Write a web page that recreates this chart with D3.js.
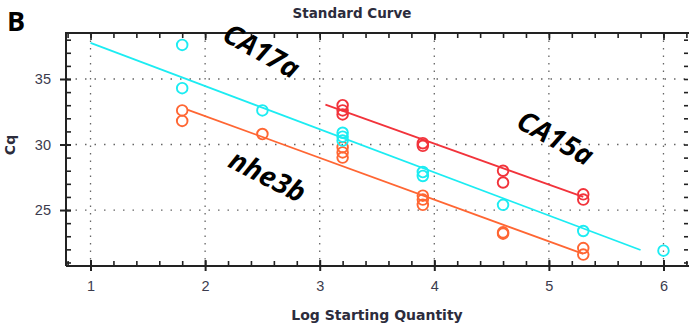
<!DOCTYPE html>
<html>
<head>
<meta charset="utf-8">
<script src="https://cdn.jsdelivr.net/npm/d3@7"></script>
<style>
  body { margin: 0; background: #fff; }
  svg { display: block; font-family: "DejaVu Sans", sans-serif; }
</style>
</head>
<body>
<div id="chart"></div>
<script>
// Chart values
var xTicks = [1, 2, 3, 4, 5, 6];
var yTicks = [25, 30, 35];

var ca17aX = [1.8, 1.8, 2.5, 3.2, 3.2, 3.2, 3.9, 3.9, 4.6, 5.3, 6.0];
var ca17aY = [37.6, 34.3, 32.6, 30.9, 30.6, 30.3, 27.9, 27.6, 25.4, 23.4, 21.9];
var ca17aLineX = [1.0, 5.8];
var ca17aLineY = [37.75, 21.95];

var ca15aX = [3.2, 3.2, 3.2, 3.9, 3.9, 4.6, 4.6, 5.3, 5.3];
var ca15aY = [33.0, 32.6, 32.3, 30.1, 29.9, 28.0, 27.1, 26.2, 25.8];
var ca15aLineX = [3.05, 5.3];
var ca15aLineY = [33.05, 26.0];

var nhe3bX = [1.8, 1.8, 2.5, 3.2, 3.2, 3.2, 3.9, 3.9, 3.9, 4.6, 4.6, 5.3, 5.3];
var nhe3bY = [32.6, 31.8, 30.8, 29.8, 29.4, 29.0, 26.1, 25.8, 25.4, 23.3, 23.2, 22.1, 21.6];
var nhe3bLineX = [1.85, 5.3];
var nhe3bLineY = [32.65, 21.65];

var seriesNames = ["nhe3b", "CA17a", "CA15a"];
var seriesColors = ["#ff6633", "#1cecf2", "#f2333b"];

// SVG area
var svgWidth = 689;
var svgHeight = 329;
var margin = { top: 33, right: 1, bottom: 63, left: 66 };
var chartWidth = svgWidth - margin.left - margin.right;
var chartHeight = svgHeight - margin.top - margin.bottom;

var svg = d3.select("#chart")
  .append("svg")
  .attr("width", svgWidth)
  .attr("height", svgHeight);

var chartGroup = svg.append("g")
  .attr("transform", `translate(${margin.left}, ${margin.top})`);

var xScale = d3.scaleLinear()
  .domain([0.786, 6.214])
  .range([0, chartWidth]);

var yScale = d3.scaleLinear()
  .domain([20.73, 38.51])
  .range([chartHeight, 0]);

// Dotted grid
chartGroup.selectAll(".vgrid")
  .data(xTicks)
  .enter()
  .append("line")
  .attr("x1", d => xScale(d))
  .attr("x2", d => xScale(d))
  .attr("y1", 0)
  .attr("y2", chartHeight)
  .attr("stroke", "#666")
  .attr("stroke-width", 1.3)
  .attr("stroke-dasharray", "1.5,6");

chartGroup.selectAll(".hgrid")
  .data(yTicks)
  .enter()
  .append("line")
  .attr("x1", 0)
  .attr("x2", chartWidth)
  .attr("y1", d => yScale(d))
  .attr("y2", d => yScale(d))
  .attr("stroke", "#666")
  .attr("stroke-width", 1.3)
  .attr("stroke-dasharray", "1.5,8");

// Axes with ticks crossing the frame
var xMinor = d3.range(0.8, 6.21, 0.2);
var yMinor = d3.range(21, 38.5, 1);

function drawAxis(axis, cls, transform) {
  chartGroup.append("g")
    .attr("class", cls)
    .attr("transform", transform)
    .call(axis);
}

drawAxis(d3.axisBottom(xScale).tickValues(xMinor).tickSize(-5).tickFormat(""), "x-minor", `translate(0, ${chartHeight})`);
drawAxis(d3.axisBottom(xScale).tickValues(xTicks).tickSize(5).tickPadding(10).tickFormat(d3.format("d")), "x-axis", `translate(0, ${chartHeight})`);
drawAxis(d3.axisTop(xScale).tickValues(xMinor).tickSize(-5).tickFormat(""), "x-top", "translate(0, 0)");
drawAxis(d3.axisTop(xScale).tickValues(xTicks).tickSize(-7).tickFormat(""), "x-top", "translate(0, 0)");
drawAxis(d3.axisLeft(yScale).tickValues(yMinor).tickSize(-5).tickFormat(""), "y-minor", "translate(0, 0)");
drawAxis(d3.axisLeft(yScale).tickValues(yTicks).tickSize(6).tickPadding(9).tickFormat(d3.format("d")), "y-axis", "translate(0, 0)");
drawAxis(d3.axisRight(yScale).tickValues(yMinor).tickSize(-4).tickFormat(""), "y-right", `translate(${chartWidth}, 0)`);

chartGroup.selectAll(".domain").remove();
chartGroup.selectAll(".tick line")
  .attr("stroke", "#222")
  .attr("stroke-width", 1.6);
// major ticks cross the axis line
chartGroup.selectAll(".x-axis .tick line").attr("y1", -6);
chartGroup.selectAll(".y-axis .tick line").attr("x1", 5);
chartGroup.selectAll(".x-axis .tick line, .y-axis .tick line").attr("stroke-width", 2);
chartGroup.selectAll(".x-axis text, .y-axis text")
  .attr("fill", "#3b3b4d")
  .attr("font-size", 14.5)
  .attr("font-family", "Liberation Sans, sans-serif");

// Frame
chartGroup.append("path")
  .attr("d", `M0,${chartHeight}V0H${chartWidth + 2}`)
  .attr("fill", "none")
  .attr("stroke", "#222")
  .attr("stroke-width", 2);
chartGroup.append("line")
  .attr("x1", 0)
  .attr("x2", chartWidth + 2)
  .attr("y1", chartHeight)
  .attr("y2", chartHeight)
  .attr("stroke", "#222")
  .attr("stroke-width", 2.2);

// Fit lines and circles
var series = [
  { x: nhe3bX, y: nhe3bY, lx: nhe3bLineX, ly: nhe3bLineY },
  { x: ca17aX, y: ca17aY, lx: ca17aLineX, ly: ca17aLineY },
  { x: ca15aX, y: ca15aY, lx: ca15aLineX, ly: ca15aLineY }
];

var line = d3.line()
  .x(d => xScale(d[0]))
  .y(d => yScale(d[1]));

series.forEach(function(s, i) {
  chartGroup.append("path")
    .datum(d3.zip(s.lx, s.ly))
    .attr("d", line)
    .attr("fill", "none")
    .attr("stroke", seriesColors[i])
    .attr("stroke-width", 1.8);

  chartGroup.selectAll(".pt" + i)
    .data(d3.zip(s.x, s.y))
    .enter()
    .append("circle")
    .attr("cx", d => xScale(d[0]))
    .attr("cy", d => yScale(d[1]))
    .attr("r", 5.3)
    .attr("fill", "none")
    .attr("stroke", seriesColors[i])
    .attr("stroke-width", 1.9);
});

// Series labels written on the chart
var labelPos = [
  { name: seriesNames[0], x: 268, y: 175, angle: 27 },
  { name: seriesNames[1], x: 262, y: 50, angle: 29 },
  { name: seriesNames[2], x: 556, y: 137, angle: 29 }
];

svg.selectAll(".serieslabel")
  .data(labelPos)
  .enter()
  .append("text")
  .attr("transform", d => `translate(${d.x}, ${d.y}) rotate(${d.angle})`)
  .attr("text-anchor", "middle")
  .attr("dominant-baseline", "central")
  .attr("font-family", "Open Sans, sans-serif")
  .attr("font-style", "italic")
  .attr("font-weight", 700)
  .attr("font-size", 28)
  .attr("fill", "#000")
  .text(d => d.name);

// Titles
svg.append("text")
  .attr("x", 7)
  .attr("y", 31)
  .attr("font-family", "Open Sans, sans-serif")
  .attr("font-weight", 700)
  .attr("font-size", 27)
  .attr("fill", "#000")
  .text("B");

svg.append("text")
  .attr("x", 352)
  .attr("y", 18)
  .attr("text-anchor", "middle")
  .attr("font-weight", "bold")
  .attr("font-size", 13.5)
  .attr("fill", "#2c2c3c")
  .text("Standard Curve");

svg.append("text")
  .attr("x", 377)
  .attr("y", 320)
  .attr("text-anchor", "middle")
  .attr("font-weight", "bold")
  .attr("font-size", 14)
  .attr("fill", "#2c2c3c")
  .text("Log Starting Quantity");

svg.append("text")
  .attr("transform", "translate(15, 145) rotate(-90)")
  .attr("text-anchor", "middle")
  .attr("font-weight", "bold")
  .attr("font-size", 14)
  .attr("fill", "#2c2c3c")
  .text("Cq");
</script>
</body>
</html>
